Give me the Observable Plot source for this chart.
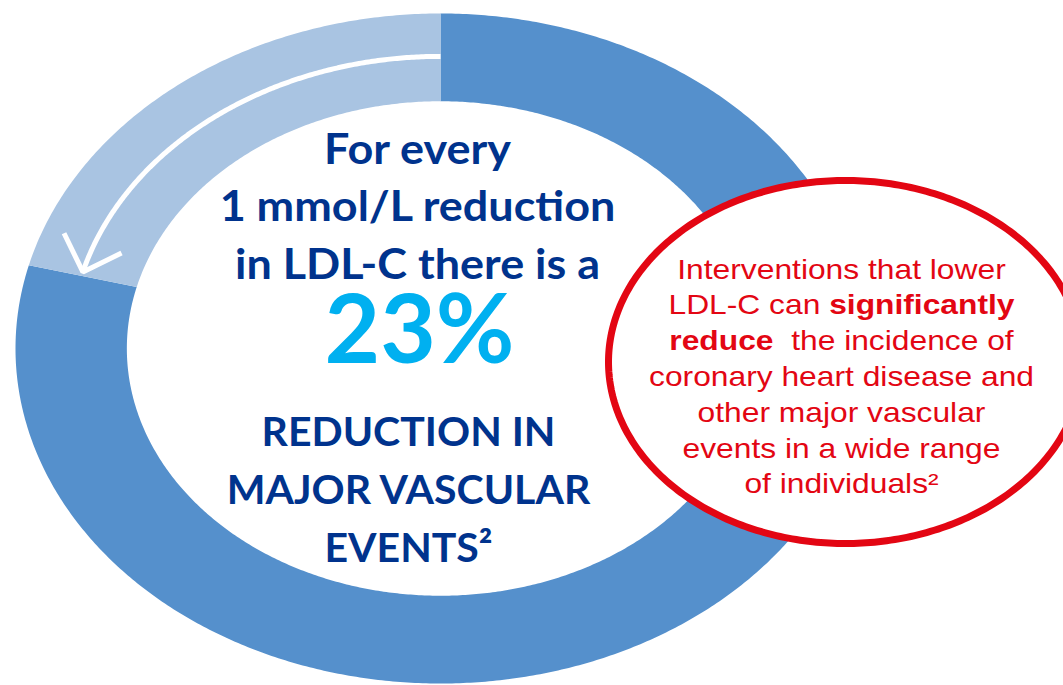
<!DOCTYPE html>
<html><head><meta charset="utf-8">
<script src="https://cdn.jsdelivr.net/npm/d3@7"></script>
<script src="https://cdn.jsdelivr.net/npm/@observablehq/plot@0.6"></script>
<style>html,body{margin:0;padding:0;background:#fff;overflow:hidden}</style>
</head><body><div id="chart"></div>
<script>
// ---------- data ----------
const sliceLabels = ["Remaining", "Reduction"];
const sliceValues = [79, 21];
const headlineLines = ["For every", "1 mmol/L reduction", "in LDL-C there is a"];
const statValue = 23;
const outcomeLines = ["REDUCTION IN", "MAJOR VASCULAR", "EVENTS²"];
const calloutLines = [
  "Interventions that lower",
  "LDL-C can *significantly*",
  "*reduce*\u00a0 the incidence of",
  "coronary heart disease and",
  "other major vascular",
  "events in a wide range",
  "of individuals²"
];

// ---------- layout / style ----------
const W = 1063, H = 685;
const ring = {cx: 440, cy: 348, rx: 425, ry: 335, inner: 0.738, arrowR: 0.872};
const callout = {cx: 845, cy: 361.5, rx: 237, ry: 181.5};
const navy = "#00338D", cyan = "#00B0F0", red = "#E30613";
const colors = {Remaining: "#5590CC", Reduction: "#A9C4E2"};

function pt(t, r) {
  return {x: ring.cx + r * ring.rx * Math.sin(t), y: ring.cy - r * ring.ry * Math.cos(t)};
}

const arcs = d3.pie().sort(null).value(d => d.value)(
  sliceLabels.map((s, i) => ({slice: s, value: sliceValues[i]}))
);

const ringPts = [];
for (const a of arcs) {
  const n = Math.max(2, Math.ceil((a.endAngle - a.startAngle) / (Math.PI / 360)));
  for (let k = 0; k <= n; k++) {
    const t = a.startAngle + (a.endAngle - a.startAngle) * k / n;
    ringPts.push({slice: a.data.slice, ...pt(t, 1)});
  }
  for (let k = n; k >= 0; k--) {
    const t = a.startAngle + (a.endAngle - a.startAngle) * k / n;
    ringPts.push({slice: a.data.slice, ...pt(t, ring.inner)});
  }
}

// arrow running along the "reduction" slice, from 12 o'clock anticlockwise
const redArc = arcs.find(a => a.data.slice === "Reduction");
const tipT = redArc.startAngle + Math.PI / 180 * 0.8;
const arrowPts = [];
{
  const n = 200;
  for (let k = 0; k <= n; k++) {
    const t = redArc.endAngle - (redArc.endAngle - tipT) * k / n;
    arrowPts.push({part: "shaft", ...pt(t, ring.arrowR)});
  }
  const P = pt(tipT, ring.arrowR);
  let dx = -ring.rx * Math.cos(tipT), dy = -ring.ry * Math.sin(tipT);
  const L = Math.hypot(dx, dy); dx /= L; dy /= L;
  const bx = -dx, by = -dy, wing = 43, ang = Math.PI / 4;
  const rot = (a) => ({x: P.x + wing * (bx * Math.cos(a) - by * Math.sin(a)),
                       y: P.y + wing * (bx * Math.sin(a) + by * Math.cos(a))});
  arrowPts.push({part: "head", ...rot(ang)}, {part: "head", ...P}, {part: "head", ...rot(-ang)});
}

// callout ellipse outline
const calloutPts = d3.range(0, 360, 1).map(deg => {
  const t = deg * Math.PI / 180;
  return {x: callout.cx + callout.rx * Math.cos(t), y: callout.cy + callout.ry * Math.sin(t)};
});

const leftX = 415;
const headFS = 42, statFS = 96, outFS = 41, calloutFS = 28;
const baseline = (b, fs) => b - 0.32 * fs;

const chart = Plot.plot({
  width: W, height: H, margin: 0,
  x: {domain: [0, W], range: [0, W], axis: null},
  y: {domain: [0, H], range: [0, H], axis: null},
  color: {domain: sliceLabels, range: sliceLabels.map(s => colors[s])},
  style: {background: "#fff", overflow: "hidden"},
  marks: [
    Plot.line(ringPts, {x: "x", y: "y", z: "slice", fill: "slice", stroke: "none", curve: "linear-closed"}),
    Plot.line(arrowPts, {x: "x", y: "y", z: "part", stroke: "#fff", strokeWidth: 5,
      strokeLinecap: "butt", strokeLinejoin: "miter", fill: "none"}),
    Plot.line(calloutPts, {x: "x", y: "y", curve: "linear-closed", fill: "#fff", stroke: red, strokeWidth: 7}),
    Plot.text(headlineLines, {x: () => leftX + 2, y: (d, i) => baseline(163 + i * 57.5, headFS), text: d => d,
      fontSize: headFS, fontWeight: "bold", fontFamily: "Lato", fill: navy}),
    Plot.text([statValue], {x: () => leftX + 4, y: () => baseline(362, statFS), text: d => `${d}%`,
      fontSize: statFS, fontWeight: "bold", fontFamily: "Lato", fill: cyan}),
    Plot.text(outcomeLines, {x: () => leftX - 7, y: (d, i) => baseline(445 + i * 58, outFS), text: d => d,
      fontSize: outFS, fontWeight: "bold", fontFamily: "Lato", fill: navy}),
    Plot.text(calloutLines, {x: () => 841, y: (d, i) => baseline(278 + i * 35.8, calloutFS), text: d => d,
      fontSize: calloutFS, fontFamily: "Liberation Sans, Arial, sans-serif", fill: red})
  ]
});

// bold runs marked with *...*
d3.select(chart).selectAll("text").each(function () {
  const s = this.textContent;
  if (!s.includes("*")) return;
  const parts = s.split("*");
  const sel = d3.select(this);
  sel.text(null);
  parts.forEach((p, i) => {
    if (!p) return;
    const ts = sel.append("tspan").text(p);
    if (i % 2) ts.attr("font-weight", "bold");
  });
});

// horizontal stretch of the text blocks (the original slide is stretched sideways)
const stretch = [1.07, 1.0, 1.0, 1.135];
d3.select(chart).selectAll('g[aria-label="text"]').each(function (_, gi) {
  const sx = stretch[gi] ?? 1;
  if (sx === 1) return;
  d3.select(this).selectAll("text").each(function () {
    const tr = this.getAttribute("transform") || "";
    this.setAttribute("transform", `${tr} scale(${sx},1)`);
  });
});

document.getElementById("chart").appendChild(chart);
</script>
</body></html>
